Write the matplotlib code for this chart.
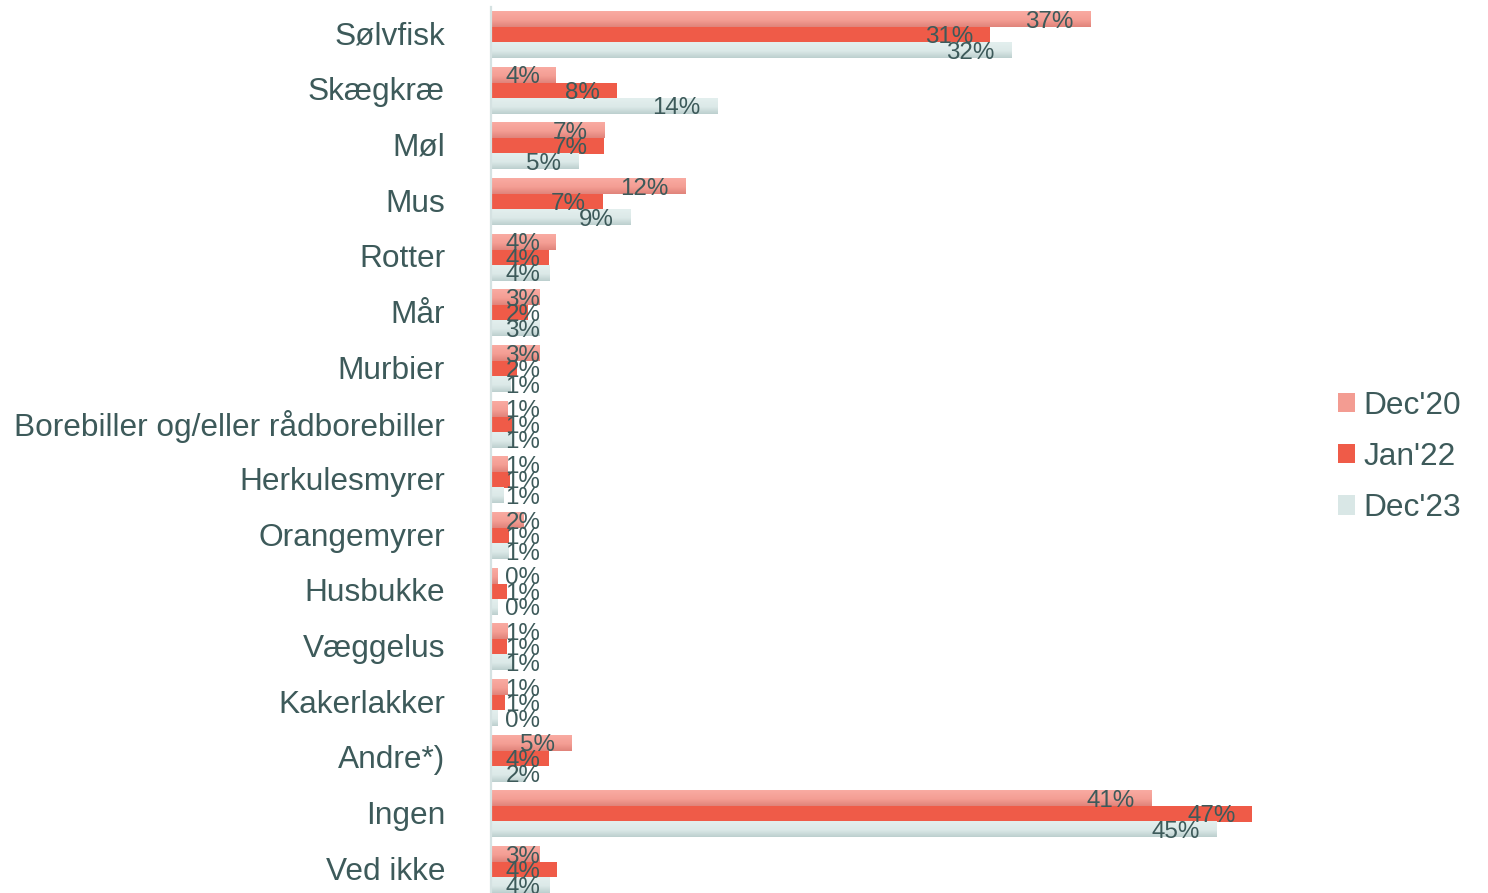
import numpy as np
import matplotlib
matplotlib.use("Agg")
import matplotlib.pyplot as plt
from matplotlib.patches import Patch
from matplotlib.colors import to_rgb
from matplotlib.transforms import ScaledTranslation

categories = ["Sølvfisk", "Skægkræ", "Møl", "Mus", "Rotter", "Mår", "Murbier",
              "Borebiller og/eller rådborebiller", "Herkulesmyrer", "Orangemyrer",
              "Husbukke", "Væggelus", "Kakerlakker", "Andre*)", "Ingen", "Ved ikke"]
series_names = ["Dec'20", "Jan'22", "Dec'23"]
dec20 = [37.0, 4.0, 7.0, 12.0, 4.0, 3.0, 3.0, 1.0, 1.0, 2.0, 0.4, 1.0, 1.0, 5.0, 40.8, 3.0]
jan22 = [30.8, 7.8, 7.0, 6.9, 3.55, 2.3, 1.6, 1.3, 1.2, 1.1, 1.0, 1.0, 0.85, 3.55, 47.0, 4.1]
dec23 = [32.1, 14.0, 5.4, 8.6, 3.6, 3.0, 1.2, 1.3, 0.8, 1.1, 0.4, 1.4, 0.4, 2.1, 44.8, 3.6]

TXT = "#3d5a5a"
plt.rcParams['font.family'] = ['Liberation Sans', 'DejaVu Sans']

fig = plt.figure(figsize=(14.88, 8.93), dpi=100)
ax = fig.add_axes([491/1488, 1 - 897.5/893, 810/1488, (897.5 - 6.8)/893])

y = np.arange(len(categories))
h = 0.835 / 3
gradients = [
    [(0.0, "#f9aba2"), (0.55, "#f49e94"), (1.0, "#e0837a")],
    None,
    [(0.0, "#e3efee"), (0.55, "#dce9e8"), (1.0, "#bccfce")],
]
solid = ["#f39c92", "#ef5b48", "#d9e7e6"]

def grad_img(stops, n=64):
    t = np.linspace(0, 1, n)
    pos = [s[0] for s in stops]
    cols = np.array([to_rgb(s[1]) for s in stops])
    img = np.stack([np.interp(t, pos, cols[:, k]) for k in range(3)], axis=-1)
    return img[:, None, :]

for k, vals in enumerate([dec20, jan22, dec23]):
    offs = (k - 1) * h
    bars = ax.barh(y + offs, vals, height=h, color=solid[k], edgecolor='none', zorder=2)
    if gradients[k] is not None:
        img = grad_img(gradients[k])
        for p in bars.patches:
            x0, y0 = p.get_x(), p.get_y()
            w, hh = p.get_width(), p.get_height()
            ax.imshow(img, extent=(x0, x0 + w, y0 + hh, y0), origin='upper',
                      aspect='auto', interpolation='bilinear', zorder=2.5)
    for yi, v in zip(y + offs, vals):
        xr = max(v - 1.05, 3.05)
        ax.text(xr, yi, f"{v:.0f}%", ha='right', va='center_baseline', fontsize=17.4,
                color=TXT, zorder=4)

ax.set_xlim(0, 50)
ax.set_ylim(len(categories) - 0.5, -0.5)
ax.set_yticks(y)
ax.set_yticks([])
# category labels drawn as text in axis-blended coordinates
trans = ax.get_yaxis_transform() + ScaledTranslation(-46/100, -2/100, fig.dpi_scale_trans)
for yi, c in zip(y, categories):
    ax.text(0, yi, c, transform=trans, ha='right', va='center', fontsize=22.8,
            color=TXT, clip_on=False)
ax.set_xticks([])
for s in ['top', 'right', 'bottom']:
    ax.spines[s].set_visible(False)
ax.spines['left'].set_color("#d5e2e2")
ax.spines['left'].set_linewidth(1.6)
ax.spines['left'].set_zorder(5)

handles = [Patch(facecolor=solid[k], edgecolor='none') for k in range(3)]
fig.legend(handles, series_names, loc='center left',
           bbox_to_anchor=(1338/1488, 1 - 457/893), frameon=False,
           fontsize=22.8, labelcolor=TXT, handlelength=0.55, handleheight=0.55,
           handletextpad=0.25, labelspacing=0.67, borderpad=0, borderaxespad=0)

fig.savefig("out.png", dpi=100)
